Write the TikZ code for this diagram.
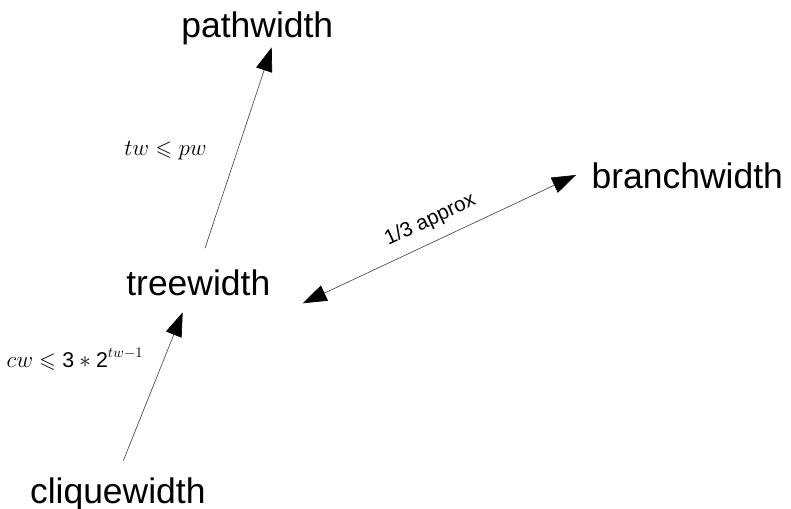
\documentclass[tikz,border=0pt]{standalone}
\usepackage{amsmath,amssymb}
\usepackage{fontspec}
\setmainfont{Liberation Sans}
\usetikzlibrary{arrows.meta,calc}

\begin{document}
\begin{tikzpicture}[
  x=0.75pt, y=-0.75pt,
  width/.style={inner sep=0pt, anchor=base, font=\fontsize{26.6}{30}\selectfont},
  bound/.style={inner sep=0pt, anchor=base, font=\fontsize{16}{19}\selectfont},
  arrow/.style={-{Triangle[length=18pt, width=12.5pt, color=black]}, draw=black!70, line width=0.5pt}
]
\useasboundingbox (0,0) rectangle (791,508);

\node[width] (pw) at (257.3,37.3) {pathwidth};
\node[width] (bw) at (687.3,188.3) {branchwidth};
\node[width] (tw) at (198.3,295.7) {treewidth};
\node[width] (cw) at (117.8,503.3) {cliquewidth};

\node[bound] (lpw) at (165.5,155) {$tw\leqslant pw$};
\node[bound] (lcw) at (75,367) {$cw\leqslant\text{3}\ast\text{2}^{tw-1}$};

\draw[arrow] ($(tw.base)+(6.7,-47.4)$) -- ($(pw.base)+(14.4,10)$);
\draw[arrow] ($(cw.base)+(5.5,-42.6)$) -- ($(tw.base)+(-15.6,16.6)$);
\draw[arrow, {Triangle[length=18pt, width=12.5pt, color=black]}-{Triangle[length=18pt, width=12.5pt, color=black]}]
  ($(tw.base)+(104.4,7.6)$) -- node[sloped, above=5pt, font=\fontsize{15.5}{18}\selectfont] (apx) {1/3 approx} ($(bw.base)+(-111.3,-13.3)$);
\end{tikzpicture}
\end{document}
